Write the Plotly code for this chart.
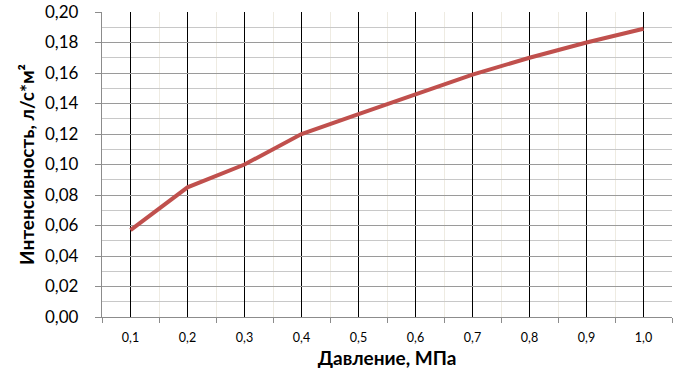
import plotly.graph_objects as go

pressure = [0.1, 0.2, 0.3, 0.4, 0.5, 0.6, 0.7, 0.8, 0.9, 1.0]
pressure_labels = ["0,1", "0,2", "0,3", "0,4", "0,5", "0,6", "0,7", "0,8", "0,9", "1,0"]
intensity = [0.057, 0.085, 0.100, 0.120, 0.133, 0.146, 0.159, 0.170, 0.180, 0.189]
boundaries = [0.05, 0.15, 0.25, 0.35, 0.45, 0.55, 0.65, 0.75, 0.85, 0.95, 1.05]

FONT = "Lato"

fig = go.Figure()
fig.add_trace(go.Scatter(
    x=pressure, y=intensity, mode="lines",
    line=dict(color="#C0504D", width=4),
    showlegend=False,
))

fig.update_layout(
    width=687, height=385,
    margin=dict(l=102, r=15, t=12, b=68),
    paper_bgcolor="white", plot_bgcolor="white",
    separators=", ",
    font=dict(family=FONT, color="black"),
)

fig.update_xaxes(
    range=[0.05, 1.05],
    automargin=False,
    tickvals=pressure, ticktext=pressure_labels,
    tickfont=dict(size=12.5, family=FONT),
    ticks="", ticklen=0,
    showgrid=True, gridcolor="black", gridwidth=1.3,
    showline=True, linecolor="#8c8c8c", linewidth=1.3,
    zeroline=False,
    ticklabelstandoff=9,
    minor=dict(tickvals=boundaries, ticks="outside", ticklen=5, tickcolor="#8c8c8c",
               tickwidth=1.3, showgrid=True, gridcolor="#EEEBE2", gridwidth=1.3),
    title=dict(text="<b>Давление, МПа</b>", font=dict(size=19, family=FONT), standoff=7),
)

fig.update_yaxes(
    range=[0, 0.2],
    automargin=False,
    dtick=0.02, tick0=0, tickformat=".2f",
    tickfont=dict(size=17, family=FONT),
    ticks="outside", ticklen=6, tickcolor="#8c8c8c", tickwidth=1.3,
    showgrid=True, gridcolor="#9a9a9a", gridwidth=1.3,
    showline=True, linecolor="#8c8c8c", linewidth=1.3,
    zeroline=False,
    ticklabelstandoff=13,
    minor=dict(dtick=0.01, tick0=0, showgrid=True, gridcolor="#c8c8c8", gridwidth=1.3, ticks=""),
    title=dict(text="<b>Интенсивность, л/с*м²</b>", font=dict(size=19, family=FONT), standoff=5),
)

fig.write_html("out.html")
